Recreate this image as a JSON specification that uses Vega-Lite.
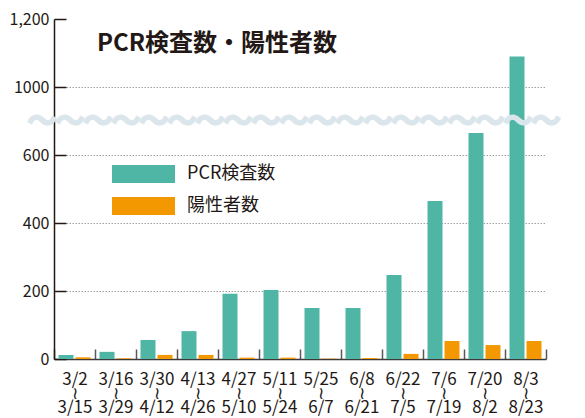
{
  "$schema": "https://vega.github.io/schema/vega-lite/v6.json",
  "width": 506,
  "height": 340,
  "autosize": {"type": "none"},
  "padding": {"left": 54, "top": 19, "right": 25, "bottom": 59},
  "background": "white",
  "title": {
    "text": "PCR検査数・陽性者数",
    "anchor": "start",
    "frame": "group",
    "orient": "top",
    "offset": -64,
    "dx": 43,
    "font": "Noto Sans CJK JP",
    "fontSize": 24,
    "fontWeight": "bold",
    "color": "#231815",
    "baseline": "alphabetic"
  },
  "config": {
    "view": {"stroke": null},
    "font": "Noto Sans CJK JP"
  },
  "layer": [
    {
      "data": {
        "values": [
          {"period": "3/2〜3/15", "type": "PCR検査数", "value": 12},
          {"period": "3/2〜3/15", "type": "陽性者数", "value": 5},
          {"period": "3/16〜3/29", "type": "PCR検査数", "value": 21},
          {"period": "3/16〜3/29", "type": "陽性者数", "value": 2},
          {"period": "3/30〜4/12", "type": "PCR検査数", "value": 56},
          {"period": "3/30〜4/12", "type": "陽性者数", "value": 12},
          {"period": "4/13〜4/26", "type": "PCR検査数", "value": 82},
          {"period": "4/13〜4/26", "type": "陽性者数", "value": 12},
          {"period": "4/27〜5/10", "type": "PCR検査数", "value": 192},
          {"period": "4/27〜5/10", "type": "陽性者数", "value": 4},
          {"period": "5/11〜5/24", "type": "PCR検査数", "value": 203},
          {"period": "5/11〜5/24", "type": "陽性者数", "value": 4},
          {"period": "5/25〜6/7", "type": "PCR検査数", "value": 150},
          {"period": "5/25〜6/7", "type": "陽性者数", "value": 1},
          {"period": "6/8〜6/21", "type": "PCR検査数", "value": 150},
          {"period": "6/8〜6/21", "type": "陽性者数", "value": 3},
          {"period": "6/22〜7/5", "type": "PCR検査数", "value": 247},
          {"period": "6/22〜7/5", "type": "陽性者数", "value": 15},
          {"period": "7/6〜7/19", "type": "PCR検査数", "value": 465},
          {"period": "7/6〜7/19", "type": "陽性者数", "value": 53},
          {"period": "7/20〜8/2", "type": "PCR検査数", "value": 665},
          {"period": "7/20〜8/2", "type": "陽性者数", "value": 41},
          {"period": "8/3〜8/23", "type": "PCR検査数", "value": 1090},
          {"period": "8/3〜8/23", "type": "陽性者数", "value": 53}
        ]
      },
      "mark": {"type": "bar"},
      "encoding": {
        "x": {
          "field": "period",
          "type": "nominal",
          "sort": null,
          "scale": {"range": [0, 492], "paddingInner": 0, "paddingOuter": 0},
          "axis": {
            "title": null,
            "labelAngle": 0,
            "labelFont": "Noto Sans CJK JP",
            "labelFontSize": 17,
            "labelColor": "#231815",
            "labelLineHeight": 14,
            "labelPadding": 22,
            "labelExpr": "isString(datum.value) ? [split(datum.value,'〜')[0], '≀', split(datum.value,'〜')[1]] : ''",
            "domainColor": "#3e3a39",
            "domainWidth": 1.5,
            "tickBand": "extent",
            "tickSize": -10,
            "tickColor": "#595757",
            "tickWidth": 1.5,
            "grid": false
          }
        },
        "xOffset": {
          "field": "type",
          "type": "nominal",
          "sort": ["PCR検査数", "陽性者数"],
          "scale": {"paddingInner": 0.118, "paddingOuter": 0.265}
        },
        "y": {
          "field": "value",
          "type": "quantitative",
          "scale": {"domain": [0, 700, 900, 1200], "range": [340, 102, 102, 0], "nice": false, "zero": false},
          "axis": {
            "title": null,
            "values": [0, 200, 400, 600, 1000, 1200],
            "labelExpr": "datum.value == 1200 ? '1,200' : '' + datum.value",
            "labelFont": "Noto Sans CJK JP",
            "labelFontSize": 16,
            "labelColor": "#231815",
            "labelPadding": 17,
            "domainColor": "#231815",
            "domainWidth": 1.5,
            "tickSize": -12,
            "tickColor": "#231815",
            "tickWidth": 1.5,
            "grid": true,
            "gridColor": "#9fa0a0",
            "gridDash": [1.5, 1.5],
            "gridWidth": 1,
            "gridOpacity": {"condition": {"test": "datum.value == 0 || datum.value == 1200", "value": 0}, "value": 1}
          }
        },
        "color": {
          "field": "type",
          "type": "nominal",
          "sort": ["PCR検査数", "陽性者数"],
          "scale": {"domain": ["PCR検査数", "陽性者数"], "range": ["#4fb5a5", "#f39800"]},
          "legend": {
            "title": null,
            "orient": "none",
            "legendX": 80.5,
            "legendY": 146,
            "padding": 0,
            "symbolType": "M-3.5,-1H3.5V1H-3.5Z",
            "symbolSize": 324,
            "symbolStrokeWidth": 0,
            "symbolOpacity": 1,
            "labelOffset": 34.5,
            "labelFont": "Noto Sans CJK JP",
            "labelFontSize": 18,
            "labelColor": "#231815",
            "rowPadding": 14
          }
        }
      }
    },
    {
      "data": {"values": [{"note": "axis break"}]},
      "mark": {
        "type": "text",
        "text": "〜〜〜〜〜〜〜〜〜〜〜〜〜〜〜〜〜〜〜",
        "font": "Noto Sans CJK JP",
        "fontSize": 28,
        "fill": "#dbe5ec",
        "stroke": "#dbe5ec",
        "strokeWidth": 3,
        "baseline": "middle",
        "align": "center",
        "dx": -13,
        "dy": 2
      },
      "encoding": {
        "y": {"datum": 800}
      }
    }
  ]
}
